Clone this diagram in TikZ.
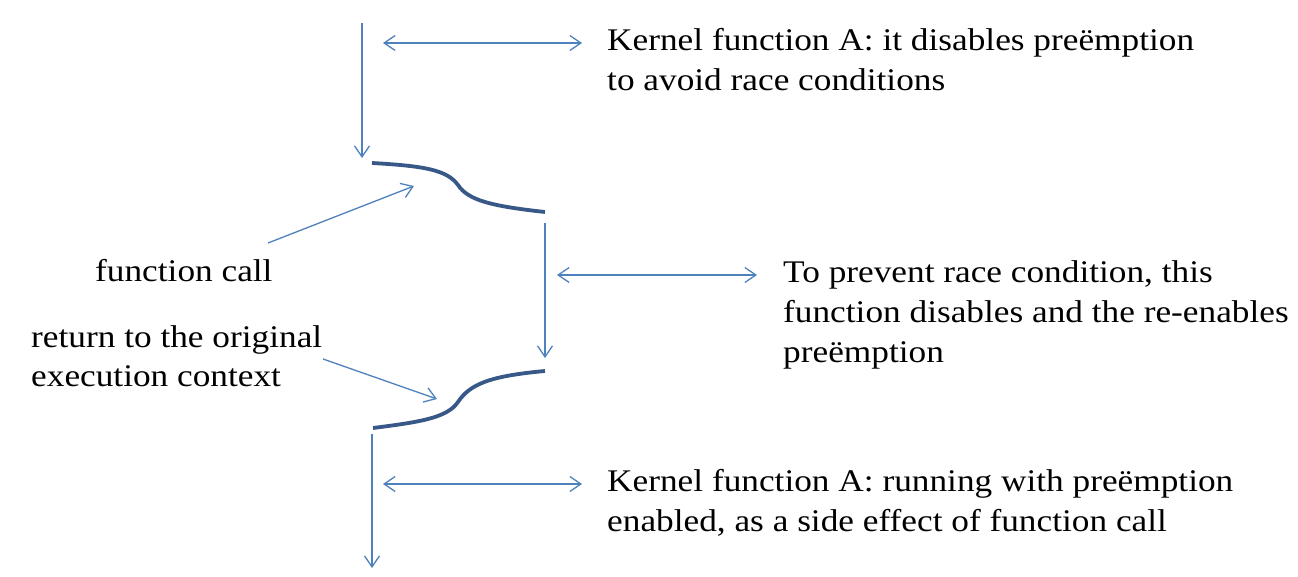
\documentclass[tikz,border=0pt]{standalone}
\usepackage{fontspec}
\setmainfont{Liberation Serif}[FakeStretch=1.12]
\usetikzlibrary{arrows.meta}
\definecolor{thinblue}{RGB}{79,129,189}
\definecolor{curveblue}{RGB}{56,88,135}
\begin{document}
\begin{tikzpicture}[x=1pt,y=-1pt,
  thin arrow/.style={draw=thinblue,line width=1.3pt,-{Straight Barb[length=11pt,width=15pt]}},
  dbl arrow/.style={draw=thinblue,line width=1.3pt,{Straight Barb[length=11pt,width=15pt]}-{Straight Barb[length=11pt,width=15pt]}},
  switch curve/.style={draw=curveblue,line width=3.8pt},
  txt/.style={anchor=base west,inner sep=0pt,font=\fontsize{31.5}{40}\selectfont}]
\useasboundingbox[fill=white] (0,0) rectangle (1298,577);
% coordinates
\coordinate (v1s) at (362,23);
\coordinate (v1e) at (362,158);
\coordinate (d1l) at (383,43);
\coordinate (d1r) at (582,43);
\coordinate (fcs) at (268,243);
\coordinate (fce) at (414,186);
\coordinate (v2s) at (545,223);
\coordinate (v2e) at (545,358);
\coordinate (d2l) at (557,275);
\coordinate (d2r) at (757,275);
\coordinate (rts) at (323,359);
\coordinate (rte) at (437,399);
\coordinate (v3s) at (372,434);
\coordinate (v3e) at (372,568);
\coordinate (d3l) at (383,484);
\coordinate (d3r) at (582,484);
% texts
\node[txt] (t1a) at (607,51) {Kernel function A: it disables preëmption};
\node[txt] (t1b) at (607,91) {to avoid race conditions};
\node[txt] (fc) at (95,282) {function call};
\node[txt] (t2a) at (783,283) {To prevent race condition, this};
\node[txt] (t2b) at (783,322) {function disables and the re-enables};
\node[txt] (t2c) at (783,362) {preëmption};
\node[txt] (rt1) at (31,347) {return to the original};
\node[txt] (rt2) at (31,386) {execution context};
\node[txt] (t3a) at (607,491) {Kernel function A: running with preëmption};
\node[txt] (t3b) at (607,531) {enabled, as a side effect of function call};
% connectors
\draw[thin arrow] (v1s) -- (v1e);
\draw[dbl arrow] (d1l) -- (d1r);
\draw[thin arrow] (fcs) -- (fce);
\draw[thin arrow] (v2s) -- (v2e);
\draw[dbl arrow] (d2l) -- (d2r);
\draw[thin arrow] (rts) -- (rte);
\draw[thin arrow] (v3s) -- (v3e);
\draw[dbl arrow] (d3l) -- (d3r);
% context-switch curves
\draw[switch curve,line cap=butt] (372,163) .. controls (425,166) and (447,170) .. (458,185)
  .. controls (468,200) and (490,206) .. (545,212);
\draw[switch curve,line cap=butt] (373,428) .. controls (420,422) and (447,418) .. (458,402)
  .. controls (470,384) and (490,376) .. (545,371);
\end{tikzpicture}
\end{document}
